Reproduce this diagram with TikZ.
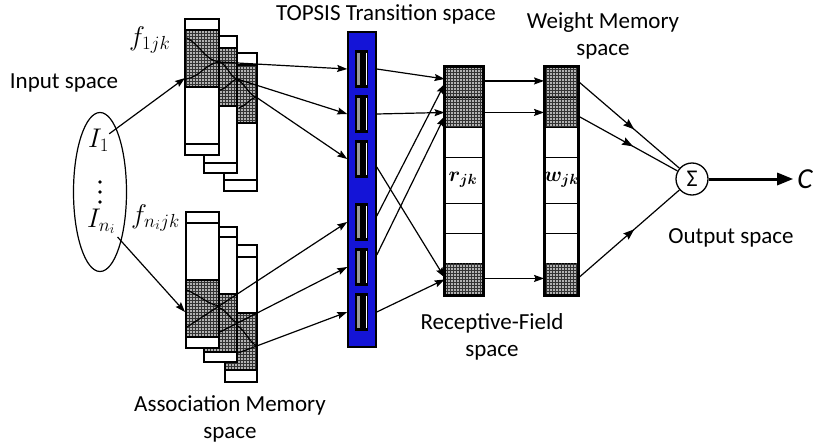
\RequirePackage{fix-cm}
\documentclass[tikz,border=0pt]{standalone}
\usepackage[no-math]{fontspec}
\usepackage{bm}
\setmainfont{Carlito}
\usetikzlibrary{shapes.geometric,arrows.meta,patterns,decorations.markings,calc}
\definecolor{barblue}{RGB}{20,20,215}
\begin{document}
\begin{tikzpicture}[x=1pt,y=-1pt,
  lbl/.style={font=\fontsize{23}{27}\selectfont, inner sep=0pt, align=center},
  mlbl/.style={font=\fontsize{27}{30}\selectfont, inner sep=0pt, anchor=base west},
  smlbl/.style={font=\fontsize{21}{24}\selectfont, inner sep=0pt},
  sigfont/.style={font=\fontsize{24}{26}\selectfont},
  cfont/.style={font=\fontsize{29}{32}\selectfont\itshape, inner sep=0pt},
  conn/.style={line width=1.2pt, -{Stealth[length=10pt,width=7pt,inset=1.5pt]}},
  plainline/.style={line width=1.2pt},
  curveline/.style={line width=1.2pt},
  rectline/.style={draw=black, line width=1.5pt},
  inline/.style={line width=1.3pt},
  shadefill/.style={fill=black!30, postaction={pattern=grid, pattern color=black!80}},
  cell/.style={rectangle, draw=black, line width=0.9pt, minimum width=38pt, inner sep=0pt, anchor=north},
  shcell/.style={cell, fill=black!30, postaction={pattern=grid, pattern color=black!80}},
  slotbox/.style={rectangle, fill=black, minimum width=13pt, minimum height=38pt, inner sep=0pt},
  midarrow/.style={postaction={decorate}, decoration={markings, mark=at position 0.55 with {\arrow{Stealth[length=11pt,width=8pt,inset=1.5pt]}}}}
]
\useasboundingbox (0,0) rectangle (813,447);
\fill[white] (0,0) rectangle (813,447);

% ---------- Input space ----------
\node[ellipse, draw, line width=1.2pt, minimum width=53pt, minimum height=159pt, inner sep=0pt] (inp) at (100,192) {};
\node[mlbl] (I1) at (88,147) {$I_1$};
\node[mlbl] (In) at (87,227) {$I_{n_i}$};
\coordinate (d1) at (100,182);
\coordinate (d2) at (100,192);
\coordinate (d3) at (100,202);
\foreach \d in {d1,d2,d3} \fill (\d) circle (1.9pt);
\node[lbl] (tin) at (64,83) {Input space};

% ---------- Association memory, top block ----------
% R3
\fill[white] (224,53) rectangle (257,191);
\path[shadefill] (224,65) rectangle (257,123);
\draw[inline] (224,65) -- (257,65) (224,123) -- (257,123) (224,180) -- (257,180);
\draw[rectline] (224,53) rectangle (257,191);
\draw[curveline] (238,80) .. controls (246,85) and (249,95) .. (256,97);
\draw[curveline] (239,108) .. controls (246,106) and (249,99) .. (256,97);
% R2
\fill[white] (204,36) rectangle (237,173);
\path[shadefill] (204,48) rectangle (237,106);
\draw[inline] (204,48) -- (237,48) (204,106) -- (237,106) (204,163) -- (237,163);
\draw[rectline] (204,36) rectangle (237,173);
\draw[curveline] (220,62) .. controls (228,66) and (230,77) .. (237,79);
\draw[curveline] (220,90) .. controls (228,88) and (230,81) .. (237,79);
% R1
\fill[white] (185,19) rectangle (219,155);
\path[shadefill] (185,30) rectangle (219,87);
\draw[inline] (185,30) -- (219,30) (185,87) -- (219,87) (185,144) -- (219,144);
\draw[rectline] (185,19) rectangle (219,155);
\draw[curveline] (187,38) .. controls (200,45) and (205,60) .. (219,62);
\draw[curveline] (186,79) .. controls (200,77) and (205,64) .. (219,62);

% ---------- Association memory, bottom block ----------
% R3
\fill[white] (225,245) rectangle (257,382);
\path[shadefill] (225,313) rectangle (257,370);
\draw[inline] (225,257) -- (257,257) (225,313) -- (257,313) (225,370) -- (257,370);
\draw[rectline] (225,245) rectangle (257,382);
\draw[curveline] (238,326) .. controls (246,332) and (250,343) .. (257,346);
% R2
\fill[white] (204,227) rectangle (237,362);
\path[shadefill] (204,294) rectangle (237,352);
\draw[inline] (204,237) -- (237,237) (204,294) -- (237,294) (204,352) -- (237,352);
\draw[rectline] (204,227) rectangle (237,362);
\draw[curveline] (220,308) .. controls (228,312) and (231,320) .. (237,323);
% R1
\fill[white] (186,212) rectangle (219,348);
\path[shadefill] (186,280) rectangle (219,337);
\draw[inline] (186,223) -- (219,223) (186,280) -- (219,280) (186,337) -- (219,337);
\draw[rectline] (186,212) rectangle (219,348);
\draw[curveline] (187,290) .. controls (200,296) and (208,304) .. (219,306);

\node[mlbl] (f1) at (129,45) {$f_{1jk}$};
\node[mlbl] (fn) at (131,223) {$f_{n_i jk}$};
\node[lbl] (tam) at (230,419) {Association Memory\\space};

% ---------- TOPSIS transition bar ----------
\node[rectangle, draw=black, line width=1.5pt, fill=barblue, minimum width=28pt, minimum height=315pt, inner sep=0pt] (bar) at (362,189.5) {};
\node[slotbox] (s1) at (361.5,69) {};
\node[slotbox] (s2) at (361.5,114) {};
\node[slotbox] (s3) at (361.5,159) {};
\node[slotbox] (s4) at (361.5,222) {};
\node[slotbox] (s5) at (361.5,267) {};
\node[slotbox] (s6) at (361.5,312) {};
\foreach \s in {s1,s2,s3,s4,s5,s6}{
  \fill[black!40] ($(\s.north west)+(2,3)$) rectangle ($(\s.south west)+(5,-3)$);
  \draw[white, line width=0.6pt] ($(\s.north east)+(-1.5,3)$) -- ($(\s.south east)+(-1.5,-3)$);
}
\node[lbl] (ttop) at (386,14) {TOPSIS Transition space};

% ---------- Receptive field ----------
\node[shcell, minimum height=31pt] (rf1) at (464,66) {};
\node[shcell, minimum height=30pt] (rf2) at (464,97) {};
\node[cell, minimum height=30pt] (rf3) at (464,127) {};
\node[cell, minimum height=46pt] (rf4) at (464,157) {};
\node[cell, minimum height=30pt] (rf5) at (464,203) {};
\node[cell, minimum height=30pt] (rf6) at (464,233) {};
\node[shcell, minimum height=32pt] (rf7) at (464,263) {};
\draw[line width=3pt] (rf1.north west) rectangle (rf7.south east);
\node[smlbl] (rjk) at (463,180) {$\bm{r}_{\bm{jk}}$};
\node[lbl] (trf) at (492,337) {Receptive-Field\\space};

% ---------- Weight memory ----------
\node[shcell, minimum width=34pt, minimum height=31pt] (wm1) at (561.5,66) {};
\node[shcell, minimum width=34pt, minimum height=30pt] (wm2) at (561.5,97) {};
\node[cell, minimum width=34pt, minimum height=30pt] (wm3) at (561.5,127) {};
\node[cell, minimum width=34pt, minimum height=46pt] (wm4) at (561.5,157) {};
\node[cell, minimum width=34pt, minimum height=30pt] (wm5) at (561.5,203) {};
\node[cell, minimum width=34pt, minimum height=30pt] (wm6) at (561.5,233) {};
\node[shcell, minimum width=34pt, minimum height=32pt] (wm7) at (561.5,263) {};
\draw[line width=3pt] (wm1.north west) rectangle (wm7.south east);
\node[smlbl] (wjk) at (561.5,180) {$\bm{w}_{\bm{jk}}$};
\node[lbl] (twm) at (603,36) {Weight Memory\\space};

% ---------- Output ----------
\node[circle, draw, line width=1.3pt, minimum size=32pt, inner sep=0pt, sigfont] (sig) at (692,179) {Σ};
\node[cfont] (C) at (805,179) {C};
\node[lbl] (tout) at (731,238) {Output space};

% ---------- coordinates for connector ends ----------
\coordinate (a1) at (185,78);
\coordinate (an) at (185,312);
\coordinate (t1) at (219,62);
\coordinate (t2) at (237,79);
\coordinate (t3) at (256,97);
\coordinate (b1) at (187,327);
\coordinate (b2) at (220,332);
\coordinate (b3) at (238,353);

% ---------- connectors ----------
\draw[conn] ([yshift=6pt]I1.east) -- (a1);
\draw[conn] ([xshift=2pt,yshift=-3pt]In.south east) -- (an);
\draw[conn] (t1) -- (bar.west |- s1);
\draw[conn] (t2) -- (bar.west |- s2);
\draw[conn] (t3) -- (bar.west |- s3);
\draw[conn] (b1) -- (bar.west |- s4);
\draw[conn] (b2) -- (bar.west |- s5);
\draw[conn] (b3) -- (bar.west |- s6);

\draw[conn] (bar.east |- s1) -- ([yshift=3pt]rf1.west);
\draw[conn] (bar.east |- s2) -- (rf2.west);
\draw[conn] ([yshift=-8pt]bar.east |- s3) -- ([yshift=2pt]rf7.west);
\draw[conn] ([yshift=6pt]bar.east |- s4) -- ([yshift=-2pt]rf1.west);
\draw[conn] ([yshift=12pt]bar.east |- s5) -- ([yshift=-4pt]rf2.west);
\draw[conn] (bar.east |- s6) -- (rf7.west);

\draw[conn] ([yshift=1pt]rf1.east) -- ([yshift=1pt]wm1.west);
\draw[conn] (rf2.east) -- (wm2.west);
\draw[conn] ([yshift=1pt]rf7.east) -- ([yshift=1pt]wm7.west);

\draw[plainline, midarrow] (wm1.east) -- (sig);
\draw[plainline, midarrow] ([yshift=-4pt]wm2.east) -- (sig);
\draw[plainline, midarrow] ([yshift=2pt]wm7.east) -- (sig);
\draw[line width=3pt, -{Triangle[length=16pt,width=12pt]}, shorten >=4pt] (sig.east) -- (C.west);
\end{tikzpicture}
\end{document}
